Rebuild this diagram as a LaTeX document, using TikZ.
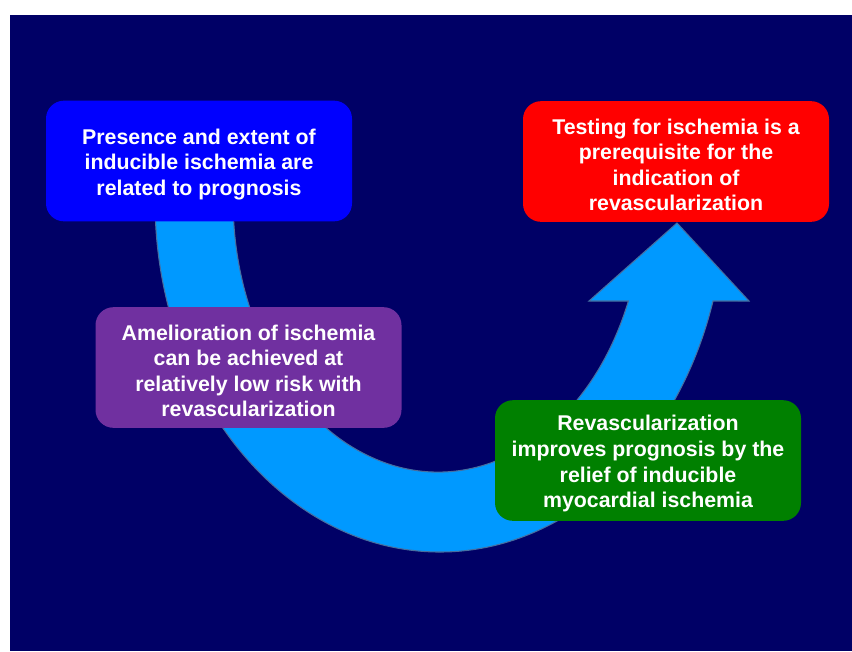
\documentclass[tikz,border=0pt]{standalone}
\usepackage{fontspec}
\setmainfont{Liberation Sans}
\definecolor{navy}{RGB}{0,0,102}
\definecolor{arrowblue}{RGB}{0,153,255}
\definecolor{arrowline}{RGB}{70,110,160}
\definecolor{boxblue}{RGB}{0,0,255}
\definecolor{boxred}{RGB}{255,0,0}
\definecolor{boxpurple}{RGB}{112,48,160}
\definecolor{boxgreen}{RGB}{0,128,0}
\newcommand{\topstrut}{\rule{0pt}{16.5pt}}
\tikzset{
  msgbox/.style={fill=#1, rounded corners=13.5pt, minimum width=229.5pt,
    minimum height=90.5pt, inner sep=0pt, align=center, text=white,
    font=\bfseries\fontsize{16}{19.2}\selectfont}
}

\begin{document}
\begin{tikzpicture}[x=0.75pt,y=-0.75pt]
	\useasboundingbox (0,0) rectangle (852,651);
	\fill[white] (0,0) rectangle (852,651);
	\fill[navy] (10,15) rectangle (852,651);
	% curved arrow
	\draw[arrowline, fill=arrowblue, line width=0.8pt]
		(155,200) arc[start angle=180, end angle=16.67, x radius=285, y radius=352]
		-- (749,301) -- (677,223) -- (589,301) -- (628.4,301)
		arc[start angle=21.79, end angle=180, x radius=205, y radius=272] -- cycle;
	% boxes
	\node[msgbox=boxblue] (presence) at (199,161) {\topstrut Presence and extent of\\inducible ischemia are\\related to prognosis};
	\node[msgbox=boxred] (testing) at (676,161.5) {\topstrut Testing for ischemia is a\\prerequisite for the\\indication of\\revascularization};
	\node[msgbox=boxpurple] (amelioration) at (248.5,367.5) {\topstrut Amelioration of ischemia\\can be achieved at\\relatively low risk with\\revascularization};
	\node[msgbox=boxgreen] (relief) at (648,460.5) {\topstrut Revascularization\\improves prognosis by the\\relief of inducible\\myocardial ischemia};
\end{tikzpicture}
\end{document}
